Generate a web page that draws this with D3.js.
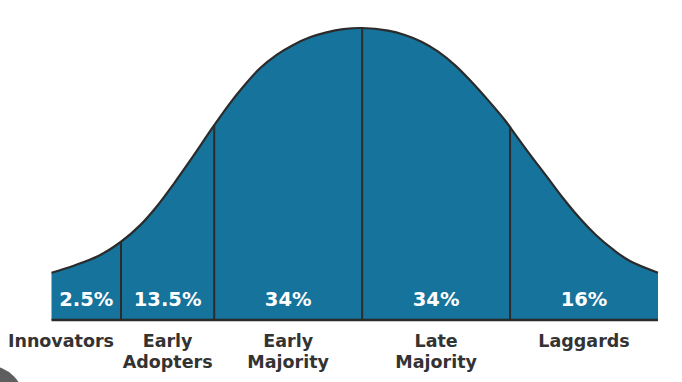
<!DOCTYPE html>
<html>
<head>
<meta charset="utf-8">
<script src="https://cdn.jsdelivr.net/npm/d3@7/dist/d3.min.js"></script>
<style>
  html, body { margin: 0; padding: 0; background: #ffffff; }
  svg { display: block; }
</style>
</head>
<body>
<svg id="chart" width="682" height="382"></svg>
<script>
// Curve: position in standard-deviation units, relative height (peak = 100)
const curveX = [-2.10, -1.95, -1.78, -1.63, -1.50, -1.39, -1.27, -1.16, -1.007, -0.894, -0.804, -0.691, -0.578, -0.466, -0.353, -0.241, -0.128, 0.00,
                0.176, 0.289, 0.401, 0.514, 0.627, 0.739, 0.851, 0.964, 1.009, 1.13, 1.25, 1.36, 1.47, 1.58, 1.70, 1.81, 2.00];
const curveY = [16.2, 18.6, 22.0, 26.8, 32.5, 38.8, 46.9, 54.8, 66.2, 74.2, 79.9, 86.2, 90.8, 94.2, 96.8, 98.5, 99.6, 100,
                99.1, 97.6, 95.3, 91.9, 87.3, 81.6, 75.3, 68.5, 65.4, 57.0, 49.0, 41.6, 34.9, 29.1, 24.0, 20.2, 16.2];
// Segment boundaries (sd units)
const boundaries = [-2.10, -1.63, -1.00, 0.00, 1.00, 2.00];
const categories = [["Innovators"], ["Early", "Adopters"], ["Early", "Majority"], ["Late", "Majority"], ["Laggards"]];
const shares = ["2.5%", "13.5%", "34%", "34%", "16%"];

const svg = d3.select("#chart");
const fillColor = "#16739b";
const lineColor = "#2b2b2b";
const textColor = "#333333";

const x = d3.scaleLinear().domain([-2.10, 2.00]).range([51.5, 658]);
const y = d3.scaleLinear().domain([0, 100]).range([320, 28]);

const pts = curveX.map((v, i) => [v, curveY[i]]);

// decorative grey disc in the lower-left corner
svg.append("circle").attr("cx", -12).attr("cy", 402).attr("r", 36.5).attr("fill", "#5e5e5e");

const curveType = d3.curveCatmullRom.alpha(0.5);

const area = d3.area()
  .x(d => x(d[0]))
  .y0(y(0))
  .y1(d => y(d[1]))
  .curve(curveType);

svg.append("path").datum(pts).attr("d", area).attr("fill", fillColor);

const line = d3.line()
  .x(d => x(d[0]))
  .y(d => y(d[1]))
  .curve(curveType);

svg.append("path").datum(pts).attr("d", line)
  .attr("fill", "none").attr("stroke", lineColor).attr("stroke-width", 2.2);

// helper: height of curve at a given x (via the same path)
const pathNode = svg.append("path").datum(pts).attr("d", line).attr("fill", "none").attr("stroke", "none").node();
function curveYAt(px) {
  const len = pathNode.getTotalLength();
  let lo = 0, hi = len;
  for (let k = 0; k < 40; k++) {
    const mid = (lo + hi) / 2;
    const p = pathNode.getPointAtLength(mid);
    if (p.x < px) lo = mid; else hi = mid;
  }
  return pathNode.getPointAtLength((lo + hi) / 2).y;
}

// inner dividers
boundaries.slice(1, -1).forEach(b => {
  const px = x(b);
  svg.append("line")
    .attr("x1", px).attr("x2", px)
    .attr("y1", curveYAt(px)).attr("y2", y(0))
    .attr("stroke", lineColor).attr("stroke-width", 2);
});

// baseline
svg.append("line")
  .attr("x1", x(boundaries[0])).attr("x2", x(boundaries[boundaries.length - 1]))
  .attr("y1", y(0)).attr("y2", y(0))
  .attr("stroke", lineColor).attr("stroke-width", 2.5);

// percentages
shares.forEach((s, i) => {
  const cx = (x(boundaries[i]) + x(boundaries[i + 1])) / 2;
  svg.append("text")
    .attr("x", cx).attr("y", 305.5)
    .attr("text-anchor", "middle")
    .attr("font-family", "DejaVu Sans")
    .attr("font-weight", "bold")
    .attr("font-size", 19.5)
    .attr("fill", "#ffffff")
    .text(s);
});

// category labels
categories.forEach((lines, i) => {
  const cx = (x(boundaries[i]) + x(boundaries[i + 1])) / 2;
  const lx = i === 0 ? x(boundaries[1]) - 7 : cx;
  const t = svg.append("text")
    .attr("font-family", "DejaVu Sans")
    .attr("font-weight", "bold")
    .attr("font-size", 17.5)
    .attr("fill", textColor)
    .attr("text-anchor", i === 0 ? "end" : "middle");
  lines.forEach((ln, j) => {
    t.append("tspan")
      .attr("x", lx)
      .attr("y", 346.5 + j * 21)
      .text(ln);
  });
});
</script>
</body>
</html>
